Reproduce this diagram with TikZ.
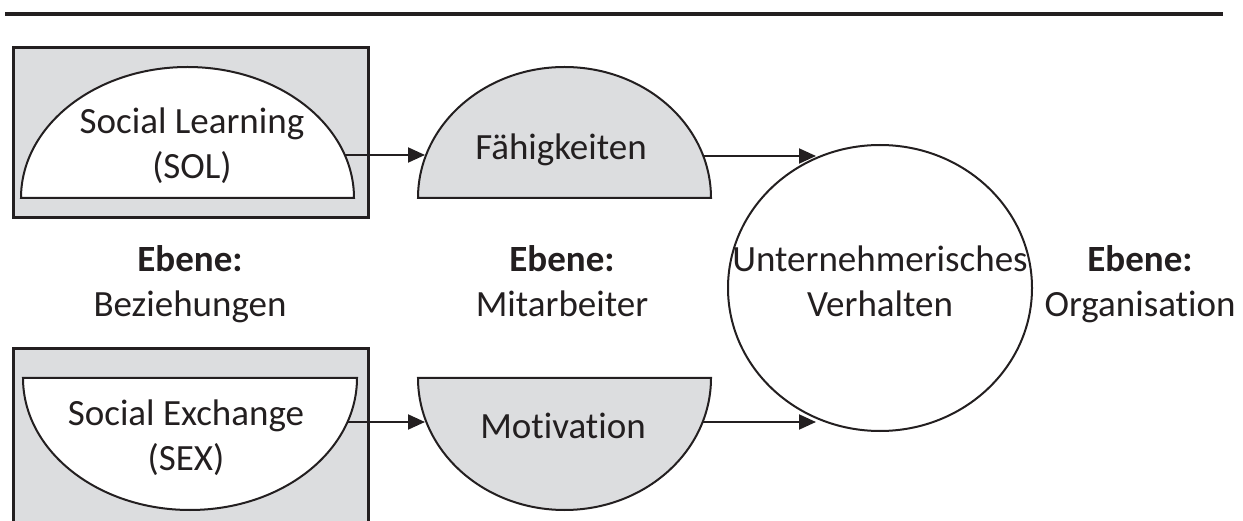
\documentclass[tikz,border=0pt]{standalone}
\usepackage{fontspec}
\setmainfont{Carlito}[Ligatures={NoCommon,NoContextual}]
\usetikzlibrary{arrows.meta}
\definecolor{ink}{RGB}{35,31,32}
\definecolor{shade}{RGB}{220,221,223}
\tikzset{
  lbl/.style={font=\fontsize{37}{44.5}\selectfont, text=ink, align=center, inner sep=0pt},
  outline/.style={draw=ink, line width=2pt},
  frame/.style={draw=ink, line width=3pt, fill=shade},
  conn/.style={draw=ink, line width=2pt, -{Triangle[length=17pt,width=15pt]}},
}
\begin{document}
\begin{tikzpicture}[x=1pt,y=1pt]
\useasboundingbox (0,0) rectangle (1243,-521);
% top rule
\draw[ink, line width=3.5pt] (5,-14) -- (1223,-14);
% frames
\path[frame] (13,-48) rectangle (368,-218);
\path[frame] (13,-349) rectangle (368,-540);
% half ellipses
\path[outline, fill=white] (21,-198) arc[start angle=180, end angle=0, x radius=166.5, y radius=131] -- cycle;
\path[outline, fill=shade] (418,-198) arc[start angle=180, end angle=0, x radius=146.5, y radius=131] -- cycle;
\path[outline, fill=white] (23,-378) arc[start angle=180, end angle=360, x radius=167, y radius=132] -- cycle;
\path[outline, fill=shade] (418,-378) arc[start angle=180, end angle=360, x radius=146.5, y radius=132] -- cycle;
% circle
\draw[outline, fill=white] (880,-288) ellipse[x radius=152, y radius=143];
% texts
\node[lbl] (sol) at (192,-147) {\strut Social Learning\\\strut (SOL)};
\node[lbl] (sex) at (186,-439) {\strut Social Exchange\\\strut (SEX)};
\node[lbl, anchor=base] (faeh) at (561,-160) {Fähigkeiten};
\node[lbl, anchor=base] (moti) at (563,-438) {Motivation};
\node[lbl] (ueb) at (880,-285) {\strut Unternehmerisches\\\strut Verhalten};
\node[lbl] (ebez) at (190,-285) {\strut\textbf{Ebene:}\\\strut Beziehungen};
\node[lbl] (emit) at (562,-285) {\strut\textbf{Ebene:}\\\strut Mitarbeiter};
\node[lbl] (eorg) at (1140,-285) {\strut\textbf{Ebene:}\\\strut Organisation};
% connector end points
\coordinate (solR) at (344,-155);
\coordinate (faehL) at (425,-155);
\coordinate (faehR) at (703,-156);
\coordinate (uebTop) at (816,-156);
\coordinate (sexR) at (347.5,-422);
\coordinate (motiL) at (425,-422);
\coordinate (motiR) at (702.6,-422);
\coordinate (uebBot) at (816,-422);
\draw[conn] (solR) -- (faehL);
\draw[conn] (faehR) -- (uebTop);
\draw[conn] (sexR) -- (motiL);
\draw[conn] (motiR) -- (uebBot);
\end{tikzpicture}
\end{document}
